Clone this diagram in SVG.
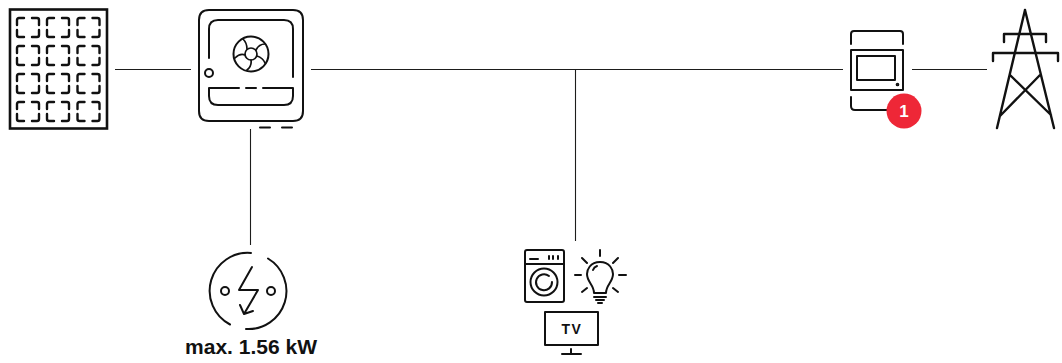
<svg xmlns="http://www.w3.org/2000/svg" width="1062" height="363" viewBox="0 0 1062 363">
<style>
.ln{fill:none;stroke:#1d1d1b;stroke-width:1.1}
.ic{fill:none;stroke:#111;stroke-width:2;stroke-linecap:round;stroke-linejoin:round}
.th{stroke-width:1.7}
.bd{stroke-width:2.400}
text{stroke:none;fill:#111;text-anchor:middle;font-family:'Liberation Sans',Arial,sans-serif;font-weight:700}
</style>
<defs>
<path id="cell" d="M7 0H2Q0 0 0 2V7M15 0H20Q22 0 22 2V7M0 12V17Q0 19 2 19H7M22 12V17Q22 19 20 19H15"/>
</defs>
<rect width="1062" height="363" fill="#fff"/>
<g id="connectors">
<path class="ln" d="M115 69.500H191"/>
<path class="ln" d="M311 69.500H843"/>
<path class="ln" d="M912 69.500H987"/>
<path class="ln" d="M250.500 129V245"/>
<path class="ln" d="M575.500 69.500V241"/>
</g>
<g id="solar-panel">
<rect x="10" y="9.500" width="97" height="119" fill="none" stroke="#111" stroke-width="2.600"/>
<g class="ic bd">
<use href="#cell" x="17" y="18"/><use href="#cell" x="47" y="18"/><use href="#cell" x="77.500" y="18"/>
<use href="#cell" x="17" y="46"/><use href="#cell" x="47" y="46"/><use href="#cell" x="77.500" y="46"/>
<use href="#cell" x="17" y="74"/><use href="#cell" x="47" y="74"/><use href="#cell" x="77.500" y="74"/>
<use href="#cell" x="17" y="102"/><use href="#cell" x="47" y="102"/><use href="#cell" x="77.500" y="102"/>
</g>
</g>
<g id="inverter" class="ic">
<path d="M285 10H209Q199 10 199 20V111Q199 121 209 121H293Q303 121 303 111V20Q303 10 293 10H285"/>
<path d="M209 58V29Q209 20 218 20H284Q293 20 293 29V77"/>
<circle cx="209" cy="73" r="4"/>
<path d="M239 88H209V96Q209 105 218 105H284Q293 105 293 96V88H263M246 88H256"/>
<circle cx="251" cy="54" r="17.500"/>
<circle cx="251" cy="54" r="6" class="th"/>
<path class="th" d="M247 49Q247 43 243 39M256 50Q259 44 265 44M257 56Q263 58 265 63M251 60Q252 66 247 70M245 55Q240 53 235 58"/>
<path d="M260 127.500H270M282 127.500H292"/>
</g>
<g id="ac-source" class="ic">
<path d="M251 253A38 38 0 0 0 230 324.500M268 258.500A38 38 0 0 1 246 329"/>
<circle cx="225" cy="291" r="4"/>
<circle cx="271" cy="291" r="4"/>
<path d="M252 267L239 290H258L244 314M244 314L240 305M244 314L253 311"/>
<text x="251" y="354" font-size="21">max. 1.56 kW</text>
</g>
<g id="loads" class="ic">
<rect x="525" y="250" width="39" height="52" rx="2"/>
<path d="M525 264H564M530 259H538M549 256V259M553 256V259M558 256V259"/>
<circle cx="544" cy="282" r="13.500"/>
<path d="M549 276A8 8 0 1 0 552 282"/>
<path d="M600 262C590 262 587 270 587 274C587 282 594 285 594 293H606C606 285 613 282 613 274C613 270 610 262 600 262ZM594 297H606M596 300H604M598 303H602M593 270Q594 267 597 266"/>
<path d="M600 250V256M582 258L587 263M618 258L613 263M575 275H581M619 275H626M582 292L587 288M618 292L613 288"/>
<rect x="545" y="312" width="53" height="33"/>
<path d="M571 349V354M562 354H581"/>
<text x="572" y="333.500" font-size="14" letter-spacing="1.500">TV</text>
</g>
<g id="meter" class="ic">
<path d="M851 44V34Q851 31 854 31H900Q903 31 903 34V44"/>
<rect x="851" y="50" width="52" height="40"/>
<rect x="857" y="56" width="38" height="24"/>
<circle cx="897.500" cy="84.500" r="1" class="th"/>
<path d="M851 97V106Q851 110 855 110H890"/>
<circle cx="904" cy="111" r="17.500" fill="#ee2737" stroke="none"/>
<text x="904" y="117" font-size="17" style="fill:#fff">1</text>
</g>
<g id="pylon" class="ic bd">
<path d="M1025 10L997 128M1025 10L1054 128M1010 75L1051 115M1040 75L1000 116"/>
<path d="M1004 42V34H1046V42M993 61V53H1058V61"/>
</g>
</svg>
